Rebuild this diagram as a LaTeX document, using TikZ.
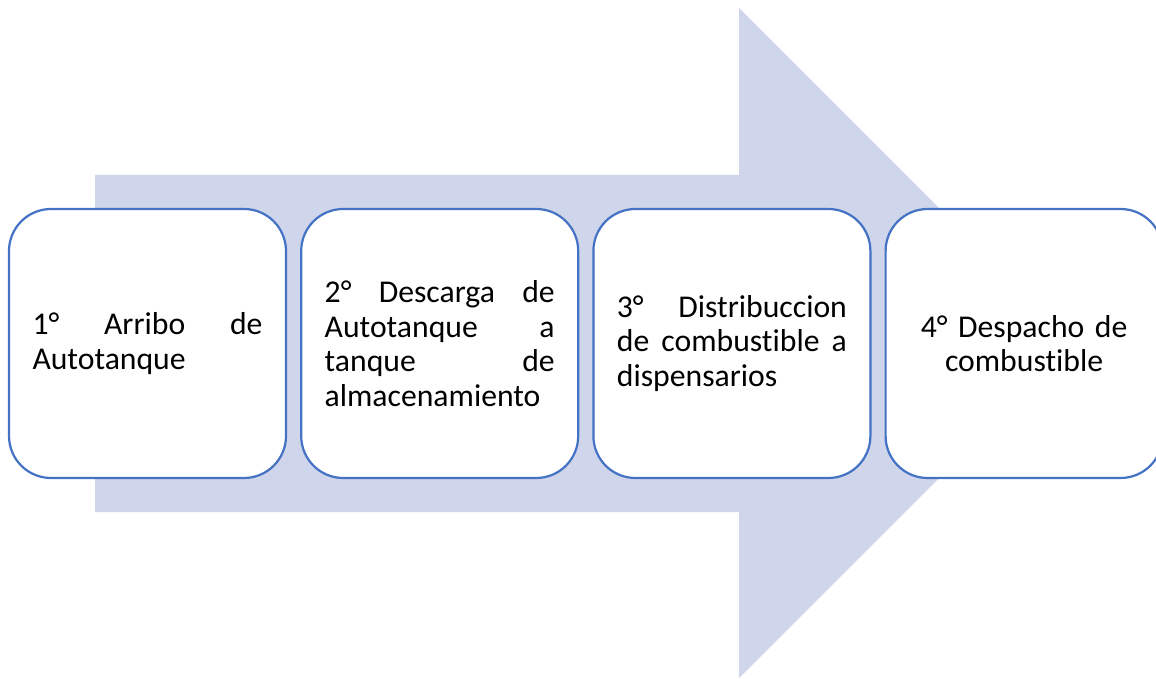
\documentclass[tikz,border=0pt]{standalone}
\usepackage{fontspec}
\setmainfont{Carlito}[Ligatures=NoCommon]
\usetikzlibrary{positioning}
\definecolor{arrowfill}{HTML}{CFD5EA}
\definecolor{boxblue}{HTML}{4472C4}
\newcommand{\fullline}[1]{\makebox[\hsize][s]{\spaceskip=.23em plus 1fil\relax #1}}

\begin{document}
\begin{tikzpicture}[x=1pt,y=1pt,
	stepbox/.style={draw=boxblue, line width=2.2pt, fill=white, rounded corners=42pt, minimum width=277pt, minimum height=269pt, text width=230pt, inner sep=0pt, align=left}]
	\fontsize{31.7}{34.5}\selectfont
	\useasboundingbox (0,0) rectangle (1156,678);
	% big arrow behind the steps
	\coordinate(T) at (1074,335);
	\fill[arrowfill] (95,166)--(95,503)--(739,503)--(739,670)--(T)--(739,0)--(739,166)--cycle;
	
	\node[stepbox] (s1) at (147.5,334.5) {\fullline{1° Arribo de}\\Autotanque};
	\node[stepbox, right=13pt of s1] (s2) {\fullline{2° Descarga de}\\\fullline{Autotanque a}\\\fullline{tanque de}\\almacenamiento};
	\node[stepbox, right=13pt of s2] (s3) {\fullline{3° Distribuccion}\\\fullline{de combustible a}\\dispensarios};
	\node[stepbox, right=13pt of s3, align=center] (s4) {4° Despacho de\\combustible};
\end{tikzpicture}
\end{document}
